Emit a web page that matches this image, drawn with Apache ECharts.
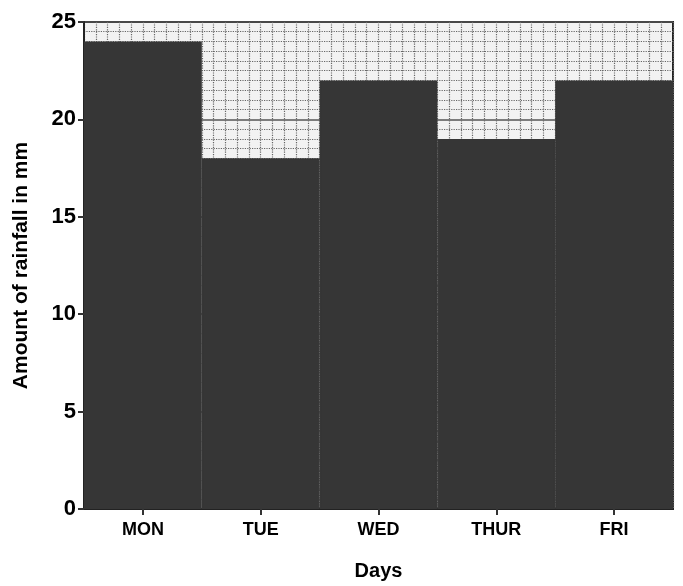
<!DOCTYPE html>
<html><head><meta charset="utf-8">
<script src="https://cdn.jsdelivr.net/npm/echarts@6/dist/echarts.min.js"></script>
<style>html,body{margin:0;padding:0;background:#fff}#c{width:683px;height:586px}</style>
</head><body><div id="c"></div>
<script>
const categories = ['MON', 'TUE', 'WED', 'THUR', 'FRI'];
const rainfall = [24, 18, 22, 19, 22];
const yTicks = [0, 5, 10, 15, 20, 25];

const chart = echarts.init(document.getElementById('c'));
const font = 'Liberation Sans, Arial, sans-serif';
chart.setOption({
  backgroundColor: '#fff',
  animation: false,
  grid: { left: 84, right: 10, top: 22, bottom: 76, show: true, borderColor: '#222', borderWidth: 2, backgroundColor: '#f2f2f2' },
  xAxis: [
    {
      type: 'category', data: categories,
      splitLine: { show: false },
      axisLine: { lineStyle: { color: '#222', width: 2 } },
      axisTick: { show: true, alignWithLabel: true, length: 6, lineStyle: { color: '#333', width: 2 } },
      axisLabel: { color: '#000', fontFamily: font, fontWeight: 'bold', fontSize: 18, margin: 12 },
      name: 'Days', nameLocation: 'middle', nameGap: 52,
      nameTextStyle: { color: '#000', fontFamily: font, fontWeight: 'bold', fontSize: 20 }
    },
    {
      type: 'value', min: 0, max: 50, interval: 1, show: true, position: 'top',
      axisLine: { show: false }, axisTick: { show: false }, axisLabel: { show: false },
      splitLine: { show: true, lineStyle: { color: '#666', width: 1.2, type: 'dotted' } }
    }
  ],
  yAxis: {
    type: 'value', min: 0, max: 25, interval: 5,
    axisLine: { show: true, lineStyle: { color: '#222', width: 2 } },
    axisTick: { show: true, length: 6, lineStyle: { color: '#333', width: 2 } },
    axisLabel: { color: '#000', fontFamily: font, fontWeight: 'bold', fontSize: 22, margin: 8,
      formatter: v => yTicks.includes(v) ? String(v) : '' },
    splitLine: { show: true, lineStyle: { color: '#555', width: 1.5 } },
    minorTick: { show: false, splitNumber: 10 },
    minorSplitLine: { show: true, lineStyle: { color: '#666', width: 1.2, type: 'dotted' } },
    name: 'Amount of rainfall in mm', nameLocation: 'middle', nameGap: 52,
    nameTextStyle: { color: '#000', fontFamily: font, fontWeight: 'bold', fontSize: 21 }
  },
  series: [{
    type: 'bar', data: rainfall, xAxisIndex: 0, barCategoryGap: '0%', z: 10,
    itemStyle: { color: '#363636', borderColor: '#363636', borderWidth: 1.5 }
  }]
});
</script></body></html>
